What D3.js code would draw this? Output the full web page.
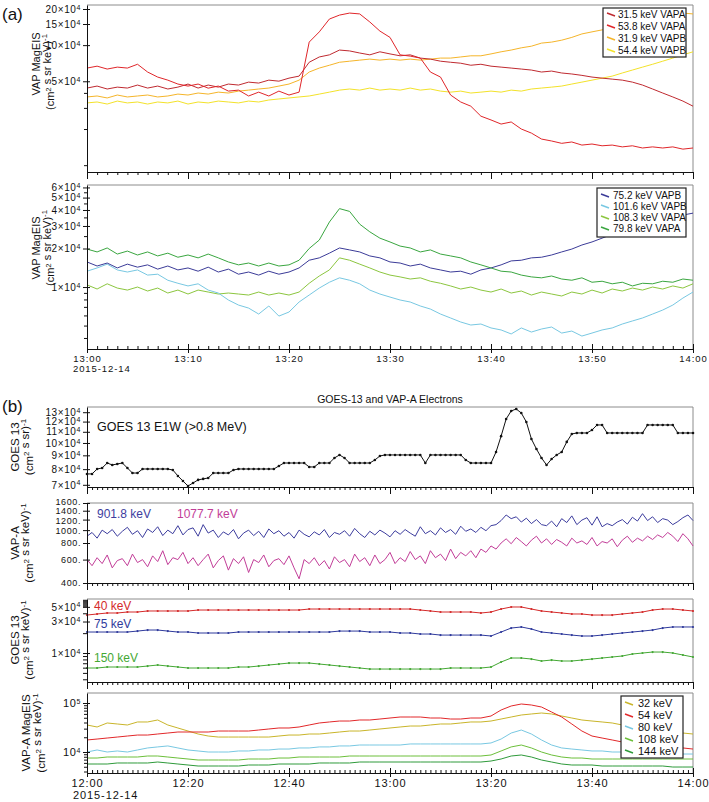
<!DOCTYPE html>
<html><head><meta charset="utf-8">
<script src="https://cdn.jsdelivr.net/npm/d3@7"></script>
<style>
body{margin:0;background:#fff}
svg text{font-family:"Liberation Sans",Arial,Helvetica,sans-serif}
</style>
</head><body>
<svg id="c" width="709" height="802"></svg>
<script>
// ================= DATA =================
// Panel (a): samples every minute from 13:00 to 14:00 on 2015-12-14
const aStepMin = 1;
const aTickLabels = ["13:00","13:10","13:20","13:30","13:40","13:50","14:00"];
const dateLabel = "2015-12-14";
// Panel (b): 12:00 to 14:00
const bTickLabels = ["12:00","12:20","12:40","13:00","13:20","13:40","14:00"];

// (a) top, flux in units of 10^4 (cm^2 s sr keV)^-1
const a1Names  = ["31.5 keV VAPA","53.8 keV VAPA","31.9 keV VAPB","54.4 keV VAPB"];
const a1Colors = ["#bf2a30","#e0262a","#f5b52a","#f3e22a"];
const vapa31_5 = [4.39,4.56,4.31,4.47,4.39,4.65,4.39,4.56,4.31,4.47,
  4.74,4.39,4.65,4.47,4.74,4.65,4.92,4.83,5.11,5.01,
  5.31,5.52,7.2,7.97,8.3,9.1,8.95,8.6,8.3,8.8,
  8.45,8.15,8.3,7.8,7.65,7.35,7.2,7.07,6.8,6.93,
  6.68,6.56,6.44,6.32,6.2,5.97,6.08,5.86,5.75,5.6,
  5.42,5.31,5.21,5.11,4.92,4.65,4.31,3.99,3.7,3.42,3.10];
const vapa53_8 = [6.44,6.68,6.32,6.56,6.44,6.93,5.97,5.42,5.11,4.74,
  4.56,4.74,4.38,4.56,4.14,4.22,3.77,4.06,3.77,4.14,
  3.84,4.06,10.6,12.9,16.5,17.8,18.5,18.2,15.6,13.1,
  11.6,8.3,8.1,7.8,5.97,5.42,3.84,3.36,3.10,2.56,
  2.38,2.20,2.29,2.00,1.85,1.65,1.59,1.52,1.56,1.47,
  1.50,1.45,1.47,1.42,1.45,1.39,1.42,1.39,1.42,1.36,1.39];
const vapb31_9 = [3.70,3.77,3.63,3.84,3.70,3.77,3.84,3.70,3.77,3.91,
  3.84,3.99,3.91,4.06,3.99,4.14,4.22,4.31,4.39,4.56,
  4.74,5.11,5.97,6.44,6.8,7.2,7.35,7.5,7.65,7.5,
  7.65,7.5,7.65,7.5,7.65,7.8,7.8,7.97,8.15,8.15,
  8.45,8.8,9.1,9.5,9.8,10.4,10.6,11.0,11.6,12.4,
  12.9,13.4,13.9,14.7,15.6,16.2,16.8,17.5,18.2,18.5,18.2];
const vapb54_4 = [3.30,3.36,3.23,3.42,3.30,3.36,3.23,3.36,3.30,3.42,
  3.23,3.36,3.30,3.42,3.36,3.30,3.42,3.36,3.49,3.56,
  3.63,3.70,3.77,3.91,4.06,4.22,4.31,4.22,4.39,4.22,
  4.31,4.22,4.39,4.22,4.31,4.14,4.06,4.14,3.99,4.06,
  4.14,4.06,4.22,4.14,4.31,4.39,4.47,4.56,4.74,4.92,
  5.11,5.31,5.52,5.86,6.2,6.56,6.93,7.35,7.8,8.3,8.8];
const a1Major = [5,10,15,20];
const a1Minor = [1,2,3,4];

// (a) bottom, units of 10^4
const a2Names  = ["75.2 keV VAPB","101.6 keV VAPB","108.3 keV VAPA","79.8 keV VAPA"];
const a2Colors = ["#3b3b98","#78c8e2","#8cc63f","#3aa640"];
const vapb75_2 = [1.57,1.46,1.54,1.41,1.51,1.43,1.49,1.38,1.46,1.36,
  1.41,1.33,1.43,1.31,1.38,1.26,1.31,1.24,1.33,1.26,
  1.31,1.41,1.62,1.69,1.84,2.02,1.95,1.88,1.75,1.69,
  1.57,1.54,1.46,1.51,1.41,1.36,1.31,1.33,1.26,1.36,
  1.41,1.49,1.60,1.62,1.69,1.71,1.78,1.88,1.98,2.13,
  2.25,2.41,2.59,2.74,2.94,3.05,3.22,3.40,3.52,3.65,3.78];
const vapb101_6 = [1.33,1.41,1.51,1.36,1.31,1.36,1.24,1.26,1.13,1.07,
  1.02,1.06,0.947,0.898,0.792,0.723,0.685,0.615,0.711,0.593,
  0.638,0.764,0.866,0.982,1.09,1.18,1.13,1.06,0.947,0.882,
  0.835,0.792,0.764,0.711,0.673,0.615,0.573,0.533,0.505,0.514,
  0.479,0.462,0.430,0.479,0.445,0.470,0.487,0.437,0.453,0.414,
  0.437,0.462,0.479,0.514,0.543,0.573,0.615,0.661,0.723,0.820,0.914];
const vapa108_3 = [1.04,0.965,1.06,0.982,0.947,1.0,0.931,0.982,0.898,0.947,
  0.882,0.947,0.914,0.882,0.898,0.882,0.866,0.914,0.866,0.898,
  0.866,0.914,1.07,1.22,1.36,1.69,1.62,1.51,1.41,1.31,
  1.24,1.20,1.155,1.18,1.11,1.07,1.02,0.965,1.0,0.947,
  0.914,0.965,0.898,0.931,0.866,0.914,0.882,0.851,0.914,0.882,
  0.947,0.898,0.965,0.931,0.982,0.947,1.0,0.965,1.02,0.982,1.06];
const vapa79_8 = [1.98,1.88,2.02,1.81,1.91,1.78,1.88,1.75,1.84,1.71,
  1.78,1.69,1.81,1.69,1.57,1.49,1.54,1.46,1.54,1.46,
  1.49,1.62,2.0,2.33,3.22,4.1,3.9,3.1,2.7,2.41,
  2.25,2.09,2.02,1.88,1.95,1.81,1.75,1.69,1.57,1.49,
  1.41,1.33,1.31,1.24,1.20,1.18,1.22,1.155,1.13,1.18,
  1.09,1.11,1.06,1.09,1.02,1.07,1.06,1.11,1.09,1.155,1.13];
const a2Major = [1,2,3,4,5,6];
const a2Minor = [0.4,0.5,0.6,0.7,0.8,0.9,2.5,3.5,4.5,5.5];

// (b1) GOES 13 E1W >0.8 MeV, one sample per minute, units of 10^4 (cm^2 s sr)^-1
const goesStepMin = 1;
const goesE1W = [7.68,7.68,8.01,8.08,8.43,8.29,8.36,8.43,8.08,7.74,7.74,
  8.01,8.01,8.01,8.01,8.01,8.01,
  7.94,7.55,7.23,6.93,7.11,7.30,7.36,7.42,
  7.74,7.74,7.74,7.74,7.94,
  8.01,8.01,8.01,8.01,8.01,8.01,8.01,8.01,8.22,
  8.43,8.43,8.43,8.43,8.43,8.15,8.15,8.43,8.43,8.43,
  8.80,9.03,8.80,8.43,8.43,8.43,8.43,8.43,8.65,8.95,
  9.03,9.03,9.03,9.03,9.03,9.03,9.03,9.03,8.43,
  9.03,9.03,9.03,9.03,9.03,9.03,9.03,8.65,
  8.43,8.43,8.43,8.43,8.43,
  9.26,10.6,12.27,13.14,13.36,12.91,11.96,10.35,9.50,8.80,8.29,8.72,9.03,9.26,10.09,10.8,
  10.89,10.89,10.89,11.17,11.66,11.66,
  10.89,10.89,10.89,10.89,10.89,10.89,10.89,10.89,
  11.66,11.66,11.66,11.66,11.66,11.66,
  10.89,10.89,10.89,10.89];
const b1Major = [7,8,9,10,11,12,13];

// (b2) VAP-A high energy, one value per minute, (cm^2 s sr keV)^-1
const b2Names  = ["901.8 keV","1077.7 keV"];
const b2Colors = ["#3d3d9e","#c23d98"];
const vapa901_8 = [900,960,870,1000,940,1010,900,980,1050,930,990,880,1020,960,1060,910,1000,940,1080,920,1010,
  1040,900,1100,950,1000,880,970,920,1010,860,950,1000,910,980,880,1020,940,990,900,960,
  870,1000,930,890,970,920,1010,880,960,930,990,900,1030,940,880,980,920,1000,950,890,
  990,930,1010,950,900,1060,940,990,920,1040,960,1010,930,1070,980,1020,960,1050,990,1080,
  1100,1180,1300,1220,1260,1150,1230,1120,1200,1100,1080,1170,1060,1220,1140,1280,1100,1190,1240,1090,
  1260,1060,1120,1080,1150,1200,1110,1250,1170,1330,1180,1260,1140,1220,1190,1100,1160,1240,1300,1180];
const vapa1077_7 = [600,540,620,560,650,520,590,610,540,660,570,600,530,640,580,700,550,620,600,680,560,
  620,540,600,660,520,590,640,500,610,560,630,480,600,570,650,530,590,610,550,640,
  520,430,600,560,620,540,590,510,630,570,600,530,660,580,620,540,650,560,600,680,
  560,620,580,690,600,640,560,700,620,660,590,720,610,680,640,700,620,720,680,760,
  720,800,860,790,880,820,760,840,900,800,860,780,850,810,760,870,800,830,780,880,
  760,820,800,860,750,840,900,810,870,830,900,850,920,880,960,900,820,940,860,760];
const b2Major = [400,600,800,1000,1200,1400,1600];

// (b3) GOES 13 electrons, one value every 2 minutes, units of 10^4
const b3StepMin = 2;
const b3Names  = ["40 keV","75 keV","150 keV"];
const b3Colors = ["#d42a2a","#2f3a9c","#44a834"];
const goes40 = [3.76,3.90,4.04,4.04,4.18,4.18,4.33,4.33,4.33,4.33,4.33,
  4.48,4.48,4.48,4.48,4.48,4.48,4.48,4.48,4.48,4.48,4.48,
  4.64,4.64,4.64,4.64,4.64,4.64,4.64,4.64,4.64,4.64,4.64,
  4.48,4.33,4.18,4.18,4.18,4.18,4.04,4.18,4.64,4.98,4.98,4.64,4.33,4.18,4.04,3.90,3.90,
  3.76,3.76,3.76,3.90,4.04,4.18,4.48,4.64,4.64,4.48,4.33];
const goes75 = [2.08,2.08,2.08,2.08,2.08,2.15,2.23,2.23,2.15,2.08,2.08,
  2.01,2.01,2.01,2.01,
  2.08,2.08,2.08,2.08,2.08,2.08,2.08,2.08,2.08,2.08,
  2.15,2.15,2.15,2.08,2.08,2.08,2.01,2.01,1.94,1.94,
  1.87,1.87,1.87,1.87,1.87,
  1.81,2.08,2.39,2.48,2.31,2.08,2.01,1.94,1.87,1.81,1.81,1.87,1.94,2.01,2.08,2.15,2.23,2.39,
  2.48,2.48,2.48];
const goes150 = [0.593,0.593,0.614,0.614,0.614,0.614,0.635,0.658,0.635,0.614,0.593,
  0.593,0.593,0.593,0.593,
  0.614,0.614,0.635,0.658,0.681,0.705,0.705,0.705,0.681,0.658,
  0.635,0.614,0.593,
  0.572,0.572,0.572,0.572,0.572,0.572,0.572,0.572,
  0.593,0.593,0.593,0.593,0.614,
  0.731,0.840,0.840,0.811,0.757,0.783,0.757,0.757,0.783,0.811,
  0.840,0.870,0.901,0.966,1.0,1.035,1.035,1.0,0.933,0.870];
const b3Major = [1,3,5];
const b3Minor = [0.4,0.5,0.6,0.7,0.8,0.9,2,4,5.2,5.4,5.6,5.8,6.0,6.2,6.4];

// (b4) VAP-A MagEIS, one value every 2 minutes, units of 10^4
const b4StepMin = 2;
const b4Names  = ["32 keV","54 keV","80 keV","108 keV","144 keV"];
const b4Colors = ["#c9b52a","#e2282a","#78c8e2","#6cbf3a","#2e9a3a"];
const mag32 = [3.56,3.24,3.91,3.73,3.56,4.10,4.10,4.50,3.56,3.09,
  2.68,2.33,2.12,2.02,2.02,2.02,2.02,2.02,2.02,2.12,
  2.22,2.22,2.33,2.33,2.44,2.56,2.68,2.68,2.81,2.95,
  3.09,3.24,3.39,3.39,3.56,3.73,3.73,3.91,4.10,4.10,
  4.29,4.71,5.18,5.69,5.97,6.25,5.97,5.43,4.94,4.50,
  4.29,4.10,3.91,3.56,3.39,3.09,2.95,2.81,2.68,2.44,2.33];
const mag54 = [1.76,1.84,1.93,2.02,2.12,2.22,2.22,2.33,2.44,2.56,
  2.56,2.56,2.56,2.68,2.68,2.68,2.68,2.81,2.95,3.09,
  3.09,3.24,3.56,3.91,4.10,4.29,4.29,4.50,4.50,4.71,
  4.94,5.18,5.18,5.18,4.94,4.94,4.71,4.71,4.94,4.94,
  5.43,7.20,8.69,9.54,9.10,8.28,6.55,5.18,3.73,2.68,
  2.12,1.93,1.76,1.60,1.53,1.46,1.39,1.33,1.27,1.21,1.15];
const mag80 = [1.0,1.10,1.0,1.05,1.0,1.10,1.21,1.27,1.33,1.21,
  1.10,1.05,1.0,1.0,1.0,1.05,1.05,1.10,1.10,1.15,
  1.15,1.21,1.21,1.27,1.27,1.33,1.33,1.39,1.39,1.39,
  1.39,1.39,1.46,1.46,1.46,1.46,1.46,1.46,1.46,1.46,
  1.53,1.84,2.44,2.81,2.33,1.76,1.39,1.21,1.15,1.10,
  1.05,1.05,1.0,1.0,1.0,0.954,0.954,0.954,0.954,0.910,0.910];
const mag108 = [0.754,0.754,0.791,0.791,0.791,0.791,0.829,0.829,0.791,0.754,
  0.720,0.687,0.687,0.687,0.687,0.687,0.720,0.720,0.720,0.754,
  0.754,0.791,0.791,0.791,0.791,0.791,0.829,0.829,0.829,0.829,
  0.829,0.829,0.829,0.829,0.829,0.829,0.829,0.829,0.829,0.829,
  0.869,1.05,1.27,1.39,1.21,1.0,0.869,0.791,0.754,0.754,
  0.720,0.720,0.720,0.720,0.720,0.720,0.720,0.720,0.720,0.720,0.720];
const mag144 = [0.569,0.569,0.569,0.597,0.597,0.597,0.597,0.625,0.597,0.569,
  0.543,0.518,0.518,0.518,0.518,0.518,0.543,0.543,0.543,0.569,
  0.569,0.569,0.569,0.597,0.597,0.597,0.597,0.625,0.625,0.625,
  0.625,0.625,0.625,0.625,0.625,0.625,0.625,0.625,0.625,0.625,
  0.655,0.720,0.829,0.869,0.791,0.687,0.625,0.569,0.543,0.543,
  0.543,0.518,0.518,0.518,0.518,0.518,0.518,0.518,0.494,0.494,0.494];
const b4Major = [1,10];
const b4Minor = [0.4,0.5,0.6,0.7,0.8,0.9,2,3,4,5,6,7,8,9];

// ================= DRAWING =================
const svg = d3.select("#c");
const L = 87, R = 693;
const xa = d3.scaleLinear().domain([0, 60]).range([L, R]);
const xb = d3.scaleLinear().domain([0, 120]).range([L, R]);

function frame(top, bottom) {
  svg.append("path").attr("d", `M${L},${top}H${R}V${bottom}`)
    .attr("fill","none").attr("stroke","#8c8c8c").attr("stroke-width",1);
}

function sup(textSel, base, exp, supSize) {
  textSel.text(null);
  textSel.append("tspan").text(base);
  if (exp !== null) textSel.append("tspan").attr("dy","-0.45em").attr("font-size", supSize || "7px").text(exp);
}

function yAxis(y, major, minor, fmt, fontSize, minorLen, shift) {
  const g = svg.append("g").attr("transform", `translate(${L},0)`);
  if (minor && minor.length) {
    const gm = g.append("g").call(d3.axisLeft(y).tickValues(minor).tickSize(minorLen || 3).tickFormat(""));
    gm.select(".domain").remove();
    gm.selectAll(".tick line").attr("x1", 0).attr("stroke","#111");
  }
  const ga = g.append("g").call(d3.axisLeft(y).tickValues(major).tickSizeInner(4).tickSizeOuter(0).tickPadding(2));
  ga.select(".domain").attr("stroke","#111");
  ga.selectAll(".tick line").attr("x1", 3).attr("stroke","#111");
  ga.selectAll(".tick text").attr("font-size", fontSize || 10).attr("letter-spacing", "0.6px").attr("fill","#111")
    .attr("font-family",'"Liberation Sans",Arial,sans-serif')
    .each(function(d){
      const f = fmt(d); sup(d3.select(this), f[0], f[1]);
      if (shift && shift[d]) d3.select(this).attr("y", shift[d]);
    });
  return g;
}

function xAxisTicks(x, yPos, minorVals, majorVals, dirDown, labels, labelSize, withDate) {
  const g = svg.append("g").attr("transform", `translate(0,${yPos})`);
  const s = dirDown ? 1 : -1;
  const gm = g.append("g").call(d3.axisBottom(x).tickValues(minorVals).tickSize(3*s).tickFormat(""));
  gm.select(".domain").attr("stroke","#111");
  gm.selectAll(".tick line").attr("stroke","#111");
  const gM = g.append("g").call(d3.axisBottom(x).tickValues(majorVals).tickSize(6).tickFormat((d,i)=> labels ? labels[i] : ""));
  gM.select(".domain").remove();
  gM.selectAll(".tick line").attr("y1", dirDown ? 0 : -5).attr("y2", dirDown ? 7 : 4).attr("stroke","#111");
  gM.selectAll(".tick text").attr("font-size", labelSize).attr("letter-spacing", "0.9px").attr("fill","#111")
    .attr("font-family",'"Liberation Sans",Arial,sans-serif').attr("dy", "0.85em").attr("y", 5);
  if (withDate) {
    svg.append("text").attr("x", L - 14).attr("y", yPos + 5 + labelSize * 1.9).attr("fill","#111")
      .attr("font-size", labelSize).attr("letter-spacing","0.9px").text(dateLabel);
  }
}

function yTitle(lines, xs, cys, size) {
  lines.forEach((ln, i) => {
    const t = svg.append("text").attr("transform", `translate(${xs[i]},${cys[i]}) rotate(-90)`)
      .attr("text-anchor","middle").attr("font-size", size).attr("fill","#111");
    ln.forEach(part => {
      if (part.sup) {
        t.append("tspan").attr("dy","-0.45em").attr("font-size", size*0.7).text(part.sup);
        t.append("tspan").attr("dy","0.45em").text("");
      } else t.append("tspan").text(part.t);
    });
  });
}
const unitKeV = [{t:"(cm"},{sup:"2"},{t:" s sr keV)"},{sup:"-1"}];
const unitSr  = [{t:"(cm"},{sup:"2"},{t:" s sr)"},{sup:"-1"}];

function drawLine(x, y, vals, step, color, width) {
  const line = d3.line().x((d,i)=>x(i*step)).y(d=>y(d));
  svg.append("path").datum(vals).attr("d", line).attr("fill","none")
    .attr("stroke", color).attr("stroke-width", width || 1).attr("stroke-linejoin","round");
}
function drawDots(x, y, vals, step, color, r) {
  svg.append("g").selectAll("circle").data(vals).join("circle")
    .attr("cx",(d,i)=>x(i*step)).attr("cy",d=>y(d)).attr("r", r).attr("fill", color);
}

function legend(x0, y0, w, h, names, colors, rowH, firstY, fontSize, textX) {
  const g = svg.append("g");
  g.append("rect").attr("x",x0).attr("y",y0).attr("width",w).attr("height",h)
    .attr("fill","#fff").attr("stroke","#222").attr("stroke-width",1.2);
  names.forEach((n,i)=>{
    const cy = firstY + i*rowH;
    g.append("line").attr("x1",x0+4).attr("x2",x0+12).attr("y1",cy-2).attr("y2",cy+1)
      .attr("stroke",colors[i]).attr("stroke-width",1.5);
    g.append("text").attr("x",textX).attr("y",cy+3.4).attr("font-size",fontSize).attr("fill","#111").text(n);
  });
}

const sci4 = d => [d + "×10", "4"];

// ---------- Panel (a) top ----------
const ya1 = d3.scaleLog().domain([0.877, 21.6]).range([172, 5]);
frame(5, 172);
[vapb54_4, vapb31_9, vapa31_5, vapa53_8].forEach((v,k)=>{
  const idx = [3,2,0,1][k];
  drawLine(xa, ya1, v, aStepMin, a1Colors[idx], 1);
});
yAxis(ya1, a1Major, a1Minor, sci4, 10);
xAxisTicks(xa, 172, d3.range(0, 61), [0,10,20,30,40,50,60], true, null, 10, false);
legend(603, 8, 83, 49, a1Names, a1Colors, 12, 15, 10, 618);
yTitle([[{t:"VAP MagEIS"}], unitKeV], [40, 54], [64, 72], 11);
svg.append("text").attr("x",2).attr("y",20).attr("font-size",17).attr("fill","#111").text("(a)");

// ---------- Panel (a) bottom ----------
const ya2 = d3.scaleLog().domain([0.328, 6.27]).range([349, 185]);
frame(185, 349);
[vapa108_3, vapb101_6, vapb75_2, vapa79_8].forEach((v,k)=>{
  const idx = [2,1,0,3][k];
  drawLine(xa, ya2, v, aStepMin, a2Colors[idx], 1);
});
yAxis(ya2, a2Major, a2Minor, sci4, 10);
xAxisTicks(xa, 349, d3.range(0, 61), [0,10,20,30,40,50,60], false, aTickLabels, 9.5, true);
legend(597, 188, 89, 49, a2Names, a2Colors, 11, 196, 10, 613);
yTitle([[{t:"VAP MagEIS"}], unitKeV], [40, 54], [248, 248], 11);

// ---------- Panel (b) ----------
svg.append("text").attr("x",2).attr("y",412).attr("font-size",17).attr("fill","#111").text("(b)");
svg.append("text").attr("x",(L+R)/2).attr("y",403).attr("text-anchor","middle").attr("font-size",10.5).attr("fill","#111").text("GOES-13 and VAP-A Electrons");

// b1
const yb1 = d3.scaleLog().domain([6.87, 13.59]).range([487, 407]);
frame(407, 487);
drawLine(xb, yb1, goesE1W, goesStepMin, "#111", 1);
drawDots(xb, yb1, goesE1W, goesStepMin, "#111", 1.3);
yAxis(yb1, b1Major, [], sci4, 10);
xAxisTicks(xb, 487, d3.range(0, 121), [0,20,40,60,80,100,120], true, null, 10, false);
svg.append("text").attr("x",97).attr("y",431).attr("font-size",12.5).attr("fill","#111").text("GOES 13 E1W (>0.8 MeV)");
yTitle([[{t:"GOES 13"}], unitSr], [19, 33], [447, 447], 11.5);

// b2
const yb2 = d3.scaleLog().domain([400, 1600]).range([583, 503]);
frame(503, 583);
drawLine(xb, yb2, vapa1077_7, 1, b2Colors[1], 1);
drawLine(xb, yb2, vapa901_8, 1, b2Colors[0], 1);
yAxis(yb2, b2Major, [], d => [d + ".", null], 9, 3, {1600:-1.5, 1200:1.5});
xAxisTicks(xb, 583, d3.range(0, 121), [0,20,40,60,80,100,120], true, null, 10, false);
svg.append("text").attr("x",97).attr("y",518).attr("font-size",12).attr("fill",b2Colors[0]).text(b2Names[0]);
svg.append("text").attr("x",177).attr("y",518).attr("font-size",12).attr("fill",b2Colors[1]).text(b2Names[1]);
yTitle([[{t:"VAP-A"}], unitKeV], [19, 33], [543, 543], 11.5);

// b3
const yb3 = d3.scaleLog().domain([0.364, 6.58]).range([682, 599]);
frame(599, 682);
[goes40, goes75, goes150].forEach((v,i)=>{
  drawLine(xb, yb3, v, b3StepMin, b3Colors[i], 1);
  drawDots(xb, yb3, v, b3StepMin, b3Colors[i], 1.1);
});
yAxis(yb3, b3Major, b3Minor, sci4, 10, 4);
xAxisTicks(xb, 682, d3.range(0, 121), [0,20,40,60,80,100,120], true, null, 10, false);
[[610,0],[628,1],[662,2]].forEach(([yy,i])=>{
  svg.append("text").attr("x",94).attr("y",yy).attr("font-size",12).attr("fill",b3Colors[i]).text(b3Names[i]);
});
yTitle([[{t:"GOES 13"}], unitKeV], [19, 33], [640, 640], 11.5);

// b4
const yb4 = d3.scaleLog().domain([0.373, 16.0]).range([773, 693]);
frame(693, 773);
[mag144, mag108, mag80, mag32, mag54].forEach((v,k)=>{
  const idx = [4,3,2,0,1][k];
  drawLine(xb, yb4, v, b4StepMin, b4Colors[idx], 1);
});
yAxis(yb4, b4Major, b4Minor, d => ["10", d === 1 ? "4" : "5"], 11);
xAxisTicks(xb, 773, d3.range(0, 121), [0,20,40,60,80,100,120], false, bTickLabels, 11, true);
legend(621, 696, 62, 62, b4Names, b4Colors, 12, 704, 11, 638);
yTitle([[{t:"VAP-A MagEIS"}], unitKeV], [30, 45], [733, 733], 11.5);
</script>
</body></html>
